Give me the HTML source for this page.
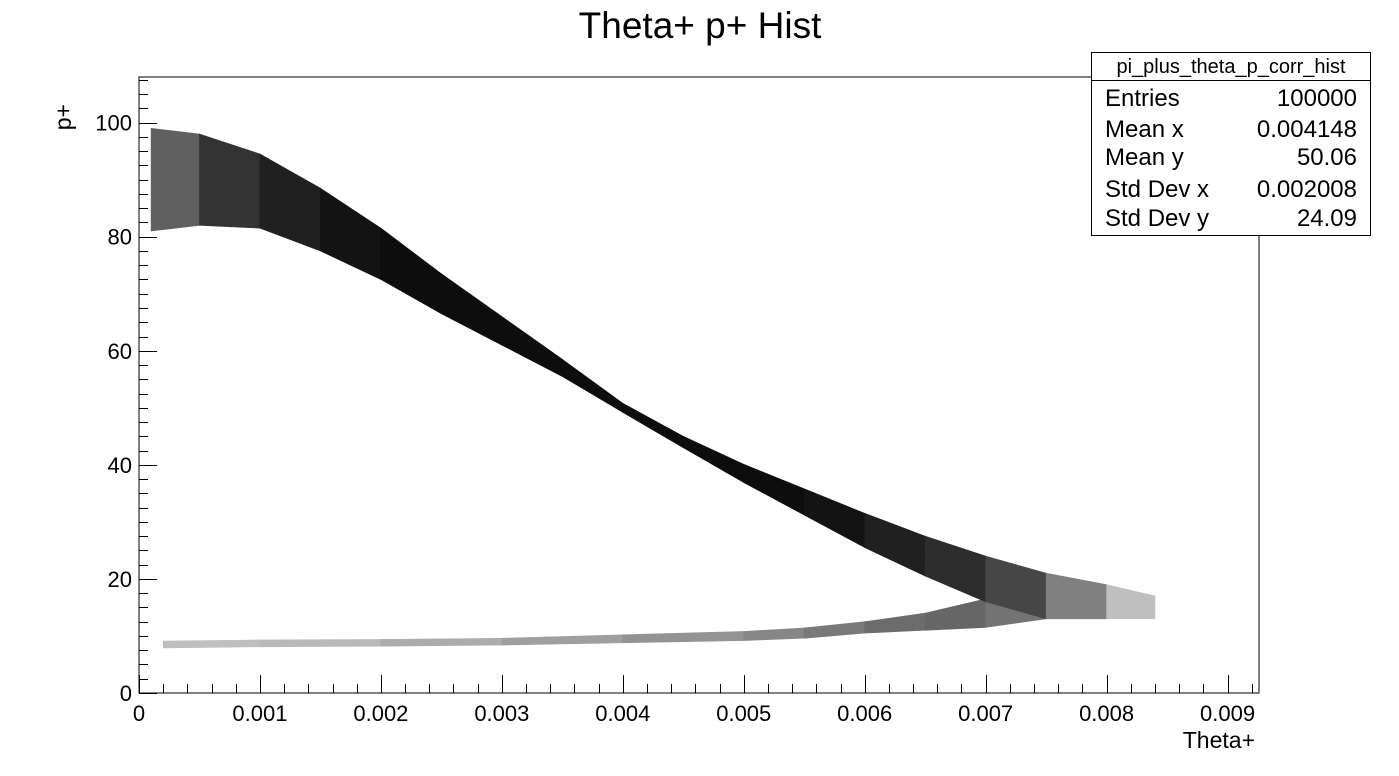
<!DOCTYPE html>
<html><head><meta charset="utf-8"><style>
body{margin:0;background:#fff;font-family:"Liberation Sans",sans-serif}
svg text{font-family:"Liberation Sans",sans-serif}
</style></head><body>
<svg id="c" width="1399" height="771">
<text x="700" y="38" font-size="37" text-anchor="middle">Theta+ p+ Hist</text>
<g id="plot"></g>
<rect x="139" y="77" width="1120" height="616" fill="none" stroke="#000" stroke-width="1"/>
<g id="axes"></g>
<text x="1255" y="748" font-size="23" text-anchor="end">Theta+</text>
<text transform="translate(71,104) rotate(-90)" font-size="23" text-anchor="end">p+</text>
<g>
<rect x="1091.5" y="52.5" width="279" height="183" fill="#fff" stroke="#000"/>
<line x1="1091" y1="80.5" x2="1371" y2="80.5" stroke="#000"/>
<text x="1231" y="73" font-size="20" text-anchor="middle">pi_plus_theta_p_corr_hist</text>
<g font-size="24">
<text x="1105" y="106">Entries</text><text x="1357" y="106" text-anchor="end">100000</text>
<text x="1105" y="137">Mean x</text><text x="1357" y="137" text-anchor="end">0.004148</text>
<text x="1105" y="165">Mean y</text><text x="1357" y="165" text-anchor="end">50.06</text>
<text x="1105" y="197">Std Dev x</text><text x="1357" y="197" text-anchor="end">0.002008</text>
<text x="1105" y="226">Std Dev y</text><text x="1357" y="226" text-anchor="end">24.09</text>
</g></g>
</svg>
<script>
// main band (theta in units of 1e-3)
const mainTheta=[0.1,0.5,1.0,1.5,2.0,2.5,3.0,3.5,4.0,4.5,5.0,5.5,6.0,6.5,7.0,7.5,8.0,8.4];
const mainP=[90,90,88,83,77,70,63.5,57,50,44,38.5,33.5,28.5,24,20,17,16,15];
const mainHalf=[9,8,6.5,5.5,4.5,3.5,2.5,1.5,0.8,1,1.6,2.3,3,3.5,4,4,3,2];
const mainDens=[0.5,0.75,0.85,0.9,0.95,0.95,0.95,0.95,0.95,0.95,0.95,0.95,0.9,0.85,0.8,0.65,0.35,0.15];
// lower band
const lowTheta=[0.2,1.0,2.0,3.0,4.0,5.0,5.5,6.0,6.5,7.0,7.5];
const lowP=[8.5,8.7,8.8,9,9.5,10,10.5,11.5,12.5,14,16];
const lowHalf=[0.6,0.6,0.6,0.6,0.7,0.8,0.9,1,1.5,2.5,3];
const lowDens=[0.25,0.25,0.3,0.35,0.4,0.45,0.5,0.55,0.6,0.6,0.5];
const xTicks=[0,0.001,0.002,0.003,0.004,0.005,0.006,0.007,0.008,0.009];
const xTickLabels=["0","0.001","0.002","0.003","0.004","0.005","0.006","0.007","0.008","0.009"];
const yTicks=[0,20,40,60,80,100];
const X0=139,X1=1259,Y0=693,Y1=77,XMAX=0.00926,YMAX=108;
const sx=v=>X0+v/XMAX*(X1-X0);
const sy=v=>Y0-v/YMAX*(Y0-Y1);
const NS="http://www.w3.org/2000/svg";
const plot=document.getElementById('plot'),axes=document.getElementById('axes');
function band(th,p,h,d,name){
  for(let i=0;i<th.length-1;i++){
    const a=th[i]*1e-3,b=th[i+1]*1e-3;
    const pts=[[sx(a),sy(p[i]+h[i])],[sx(b),sy(p[i+1]+h[i+1])],[sx(b),sy(p[i+1]-h[i+1])],[sx(a),sy(p[i]-h[i])]];
    const pg=document.createElementNS(NS,'polygon');
    pg.setAttribute('points',pts.map(q=>q.join(',')).join(' '));
    const g=Math.round(255*(1-(d[i]+d[i+1])/2));
    pg.setAttribute('fill','rgb('+g+','+g+','+g+')');
    pg.setAttribute('stroke','rgb('+g+','+g+','+g+')');
    pg.setAttribute('stroke-width','0.6');
    
    
    plot.appendChild(pg);
  }
}
band(lowTheta,lowP,lowHalf,lowDens,'low-band-segment');
band(mainTheta,mainP,mainHalf,mainDens,'main-band-segment');
function line(x1,y1,x2,y2,name){
  const l=document.createElementNS(NS,'line');
  l.setAttribute('x1',x1);l.setAttribute('y1',y1);l.setAttribute('x2',x2);l.setAttribute('y2',y2);
  l.setAttribute('stroke','#000');
  
  
  axes.appendChild(l);
}
function text(x,y,s,anchor,name){
  const t=document.createElementNS(NS,'text');
  t.setAttribute('x',x);t.setAttribute('y',y);t.setAttribute('font-size','22');t.setAttribute('text-anchor',anchor);
  t.textContent=s;
  
  
  axes.appendChild(t);
}
xTicks.forEach((v,i)=>{
  const x=Math.round(sx(v))+0.5;
  line(x,Y0,x,Y0-18,'x-major-tick');
  text(sx(v),721,xTickLabels[i],'middle','x-tick-label');
  for(let k=1;k<5;k++){const m=v+k*0.0002;if(m<XMAX){const xm=Math.round(sx(m))+0.5;line(xm,Y0,xm,Y0-9,'x-minor-tick');}}
});
yTicks.forEach(v=>{
  const y=Math.round(sy(v))+0.5;
  line(X0,y,X0+18,y,'y-major-tick');
  text(132,sy(v)+8,String(v),'end','y-tick-label');
  for(let k=1;k<8;k++){const m=v+k*2.5;if(m<YMAX){const ym=Math.round(sy(m))+0.5;line(X0,ym,X0+9,ym,'y-minor-tick');}}
});
</script>
</body></html>
